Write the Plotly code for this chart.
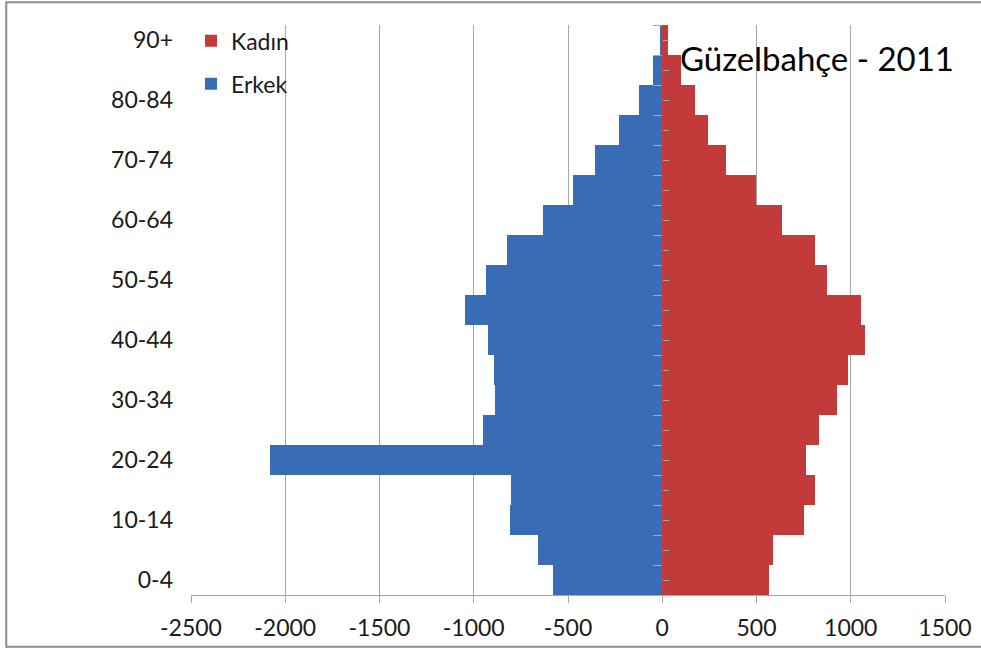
import plotly.graph_objects as go

# Veri: yaş grupları ve nüfus (Güzelbahçe 2011)
yas_gruplari = ['0-4', '5-9', '10-14', '15-19', '20-24', '25-29', '30-34', '35-39',
                '40-44', '45-49', '50-54', '55-59', '60-64', '65-69', '70-74',
                '75-79', '80-84', '85-89', '90+']
erkek = [578, 657, 810, 800, 2082, 950, 888, 893, 927, 1049, 933, 825, 633, 472,
         356, 227, 124, 48, 12]
kadin = [566, 587, 750, 810, 762, 830, 925, 987, 1074, 1053, 872, 810, 634, 499,
         337, 241, 174, 98, 31]
x_ticks = [-2500, -2000, -1500, -1000, -500, 0, 500, 1000, 1500]
y_etiketler = yas_gruplari[::2]

FONT = 'Lato'
GRI = '#A6A6A6'
YAZI = '#1a1a1a'

fig = go.Figure()

fig.add_trace(go.Bar(y=yas_gruplari, x=kadin, orientation='h', name='Kadın',
                     legendgroup='k', marker=dict(color='#C23A3A', line=dict(width=0))))
fig.add_trace(go.Bar(y=yas_gruplari, x=[-v for v in erkek], orientation='h', name='Erkek',
                     legendgroup='e', marker=dict(color='#386DB5', line=dict(width=0))))

# Orta eksen çizgisi üzerindeki küçük tik işaretleri
fig.add_trace(go.Scatter(x=[None], y=[None], yaxis='y2', showlegend=False, hoverinfo='skip'))
fig.add_trace(go.Scatter(x=[None], y=[None], yaxis='y3', showlegend=False, hoverinfo='skip'))

x0_frac = (0 - x_ticks[0]) / (x_ticks[-1] - x_ticks[0])

fig.update_layout(
    width=981, height=652,
    margin=dict(l=191, r=36, t=25, b=57, autoexpand=False),
    paper_bgcolor='white', plot_bgcolor='white',
    barmode='relative', bargap=0,
    font=dict(family=FONT, size=23, color=YAZI),
    xaxis=dict(range=[x_ticks[0], x_ticks[-1]], tickvals=x_ticks,
               ticktext=[str(v) for v in x_ticks], automargin=False,
               showgrid=True, gridcolor=GRI, gridwidth=1,
               zeroline=True, zerolinecolor=GRI, zerolinewidth=1,
               showline=True, linecolor=GRI, ticks='outside', ticklen=7, tickcolor=GRI,
               ticklabelstandoff=5,
               tickfont=dict(size=23, color=YAZI)),
    yaxis=dict(type='category', categoryorder='array', categoryarray=yas_gruplari,
               range=[-0.5, len(yas_gruplari) - 0.5], automargin=False,
               tickmode='array', tickvals=y_etiketler, ticktext=y_etiketler,
               showgrid=False, showline=False, ticks='', ticklabelstandoff=17,
               tickfont=dict(size=23, color=YAZI)),
    yaxis2=dict(overlaying='y', anchor='free', position=x0_frac, automargin=False,
                range=[-0.5, len(yas_gruplari) - 0.5], tick0=-0.5, dtick=1,
                ticks='outside', ticklen=9, tickcolor=GRI, showticklabels=False,
                showgrid=False, zeroline=False, showline=False),
    yaxis3=dict(overlaying='y', anchor='free', position=x0_frac, side='right',
                automargin=False,
                range=[-0.5, len(yas_gruplari) - 0.5], tick0=0, dtick=1,
                ticks='outside', ticklen=6, tickcolor=GRI, showticklabels=False,
                showgrid=False, zeroline=False, showline=False),
    legend=dict(x=0.0, y=1.01, xanchor='left', yanchor='top',
                bgcolor='rgba(0,0,0,0)', traceorder='grouped', tracegroupgap=10,
                font=dict(size=23, color=YAZI)),
    showlegend=True,
)

fig.add_annotation(text='Güzelbahçe - 2011', xref='paper', yref='paper',
                   x=(817 - 191) / 754, y=(595 - 58) / 570,
                   xanchor='center', yanchor='middle', showarrow=False,
                   font=dict(family=FONT, size=33, color='black'))

# Dış çerçeve
fig.add_shape(type='rect', xref='paper', yref='paper',
              x0=-0.245, x1=1.06, y0=-0.091, y1=1.04,
              line=dict(color='#8C8C8C', width=2), layer='below')

fig.write_html("out.html", config={'displayModeBar': False},
               post_script="document.body.style.margin='0';")
